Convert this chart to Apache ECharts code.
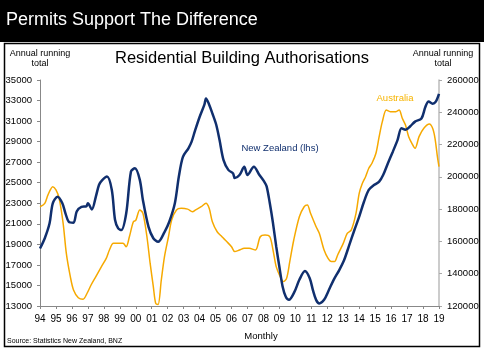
<!DOCTYPE html>
<html>
<head>
<meta charset="utf-8">
<script src="https://cdn.jsdelivr.net/npm/echarts@6/dist/echarts.min.js"></script>
<style>
  html, body { margin: 0; padding: 0; background: #fff; }
  #main { width: 484px; height: 350px; }
</style>
</head>
<body>
<div id="main"></div>
<script>
// New Zealand, annual running total (lhs)
const nzTime = [1994.0, 1994.3, 1994.6, 1994.8, 1995.1, 1995.4, 1995.6, 1995.8, 1996.1, 1996.3, 1996.6, 1996.9,
  1997.0, 1997.25, 1997.5, 1997.7, 1997.9, 1998.2, 1998.5, 1998.7, 1998.9, 1999.1, 1999.4, 1999.7,
  1999.95, 2000.25, 2000.45, 2000.8, 2001.1, 2001.4, 2001.8, 2002.1, 2002.45, 2002.7, 2002.95, 2003.3,
  2003.5, 2003.7, 2004.0, 2004.3, 2004.4, 2004.6, 2004.8, 2005.05, 2005.25, 2005.5, 2005.8, 2006.1,
  2006.2, 2006.5, 2006.8, 2007.0, 2007.4, 2007.75, 2008.05, 2008.2, 2008.4, 2008.6, 2008.8, 2009.0,
  2009.2, 2009.4, 2009.6, 2009.95, 2010.25, 2010.6, 2010.9, 2011.1, 2011.3, 2011.5, 2011.8, 2012.1,
  2012.4, 2012.75, 2013.05, 2013.35, 2013.7, 2014.0, 2014.3, 2014.6, 2014.95, 2015.25, 2015.5, 2015.8,
  2016.1, 2016.4, 2016.65, 2016.9, 2017.2, 2017.5, 2017.9, 2018.15, 2018.35, 2018.6, 2018.8, 2019.0];
const nzValues = [18600, 19600, 21050, 23000, 23640, 23000, 22000, 21200, 21100, 22200, 22650, 22700,
  23000, 22400, 23650, 24800, 25250, 25600, 24300, 21400, 20550, 20400, 22000, 26100,
  26400, 25300, 23300, 20700, 19600, 19250, 20200, 21200, 23000, 25600, 27500, 28350,
  29000, 30000, 31400, 32600, 33200, 32600, 31750, 30600, 29150, 27200, 26250, 25900,
  25450, 25750, 26550, 25750, 26550, 25750, 25100, 24650, 23000, 21050, 18800, 16800,
  14900, 13900, 13600, 14400, 15550, 16400, 15700, 14550, 13600, 13250, 13600, 14550,
  15550, 16500, 17450, 18800, 20400, 21700, 23150, 24300, 24800, 25100, 25750, 26900,
  28000, 29150, 30300, 30150, 30500, 30950, 31250, 32400, 32900, 32700, 32900, 33650];

// Australia, annual running total (rhs)
const auTime = [1994.0, 1994.3, 1994.5, 1994.8, 1995.0, 1995.2, 1995.45, 1995.65, 1995.9, 1996.1, 1996.4, 1996.7,
  1996.95, 1997.2, 1997.5, 1997.85, 1998.15, 1998.35, 1998.6, 1998.9, 1999.2, 1999.4, 1999.6, 1999.85,
  2000.0, 2000.25, 2000.45, 2000.7, 2000.9, 2001.1, 2001.25, 2001.4, 2001.6, 2001.8, 2002.05, 2002.25,
  2002.55, 2002.85, 2003.25, 2003.55, 2003.75, 2004.1, 2004.4, 2004.6, 2004.8, 2005.1, 2005.4, 2005.7,
  2006.0, 2006.2, 2006.5, 2006.8, 2007.1, 2007.5, 2007.8, 2008.1, 2008.4, 2008.6, 2008.8, 2009.05,
  2009.25, 2009.45, 2009.65, 2009.9, 2010.25, 2010.55, 2010.75, 2010.95, 2011.3, 2011.5, 2011.8, 2012.05,
  2012.25, 2012.45, 2012.65, 2013.0, 2013.25, 2013.5, 2013.8, 2014.0, 2014.2, 2014.4, 2014.6, 2014.8,
  2015.05, 2015.25, 2015.45, 2015.7, 2015.95, 2016.3, 2016.5, 2016.7, 2016.9, 2017.1, 2017.3, 2017.5,
  2017.75, 2018.05, 2018.4, 2018.6, 2018.75, 2018.9, 2019.0];
const auValues = [181500, 183600, 188800, 193900, 191900, 186700, 171200, 152600, 138200, 129900, 125100, 124200,
  127900, 133000, 138200, 144400, 149500, 154700, 158800, 158800, 158800, 156700, 162900, 172200,
  173000, 179500, 177400, 162900, 146500, 132000, 121600, 121000, 136100, 150600, 162900, 173300,
  179500, 180500, 180000, 178400, 179500, 181500, 183600, 180500, 172200, 166000, 162900, 159900,
  156700, 153700, 154700, 155700, 155700, 154700, 162900, 164000, 162900, 154700, 144400, 138200,
  135100, 137100, 147500, 160900, 175300, 181500, 182600, 177400, 169100, 165000, 154700, 149500,
  147500, 147500, 151600, 158800, 165000, 167000, 177400, 189800, 196000, 200100, 205300, 208400,
  214600, 224900, 234200, 241400, 240400, 240400, 241400, 236300, 232100, 224900, 220800, 217700,
  224900, 230100, 232700, 230100, 223900, 212500, 206300];

const FONT = '"Liberation Sans", Arial, sans-serif';
const NAVY = '#102f6e';
const ORANGE = '#f6a900';

const chart = echarts.init(document.getElementById('main'), null, { renderer: 'canvas' });

const plain = v => String(v);

chart.setOption({
  animation: false,
  backgroundColor: '#fff',
  title: {
    text: 'Residential Building Authorisations',
    left: 'center',
    top: 45,
    textStyle: { fontFamily: FONT, fontSize: 16.5, fontWeight: 'normal', color: '#000' }
  },
  grid: { left: 40, right: 45, top: 80, bottom: 44 },
  xAxis: {
    type: 'value',
    min: 1994,
    max: 2019,
    interval: 1,
    axisLine: { lineStyle: { color: '#888', width: 1 } },
    axisTick: { inside: false, length: 3, lineStyle: { color: '#888' } },
    axisLabel: { margin: 8, color: '#000', fontSize: 10, fontFamily: FONT, formatter: v => String(v).slice(2) },
    splitLine: { show: false }
  },
  yAxis: [
    {
      type: 'value',
      min: 13000,
      max: 35000,
      interval: 2000,
      axisLine: { show: true, lineStyle: { color: '#888' } },
      axisTick: { show: true, length: 3, lineStyle: { color: '#888' } },
      axisLabel: { margin: 8, color: '#000', fontSize: 9.5, fontFamily: FONT, formatter: plain },
      splitLine: { show: false }
    },
    {
      type: 'value',
      min: 120000,
      max: 260000,
      interval: 20000,
      position: 'right',
      axisLine: { show: true, lineStyle: { color: '#bbb', width: 1.5 } },
      axisTick: { show: true, length: 3, lineStyle: { color: '#aaa' } },
      axisLabel: { margin: 8, color: '#000', fontSize: 9.5, fontFamily: FONT, formatter: plain },
      splitLine: { show: false }
    }
  ],
  series: [
    {
      name: 'Australia',
      type: 'line',
      yAxisIndex: 1,
      data: auTime.map((t, i) => [t, auValues[i]]),
      showSymbol: false,
      smooth: 0.3,
      lineStyle: { color: ORANGE, width: 1.5 }
    },
    {
      name: 'New Zealand (lhs)',
      type: 'line',
      yAxisIndex: 0,
      data: nzTime.map((t, i) => [t, nzValues[i]]),
      showSymbol: false,
      smooth: 0.3,
      lineStyle: { color: NAVY, width: 2.5 }
    }
  ],
  graphic: [
    { type: 'rect', shape: { x: 0, y: 0, width: 484, height: 42 }, style: { fill: '#000' }, z: -1 },
    { type: 'text', left: 6, top: 11,
      style: { text: 'Permits Support The Difference', fill: '#fff', font: '18px ' + FONT } },
    { type: 'rect', shape: { x: 4.5, y: 43.5, width: 475, height: 303 },
      style: { fill: 'none', stroke: '#000', lineWidth: 1.5 }, z: 10 },
    { type: 'text', x: 40, y: 49,
      style: { text: 'Annual running\ntotal', fill: '#000', font: '9px ' + FONT, align: 'center', lineHeight: 10 } },
    { type: 'text', x: 443, y: 49,
      style: { text: 'Annual running\ntotal', fill: '#000', font: '9px ' + FONT, align: 'center', lineHeight: 10 } },
    { type: 'text', x: 280, y: 143,
      style: { text: 'New Zealand (lhs)', fill: NAVY, font: '9.5px ' + FONT, align: 'center' } },
    { type: 'text', x: 395, y: 93,
      style: { text: 'Australia', fill: '#f7b400', font: '9.5px ' + FONT, align: 'center' } },
    { type: 'text', x: 261, y: 331,
      style: { text: 'Monthly', fill: '#000', font: '9.5px ' + FONT, align: 'center' } },
    { type: 'text', x: 7, y: 338,
      style: { text: 'Source: Statistics New Zealand, BNZ', fill: '#000', font: '7px ' + FONT } }
  ]
});
</script>
</body>
</html>
